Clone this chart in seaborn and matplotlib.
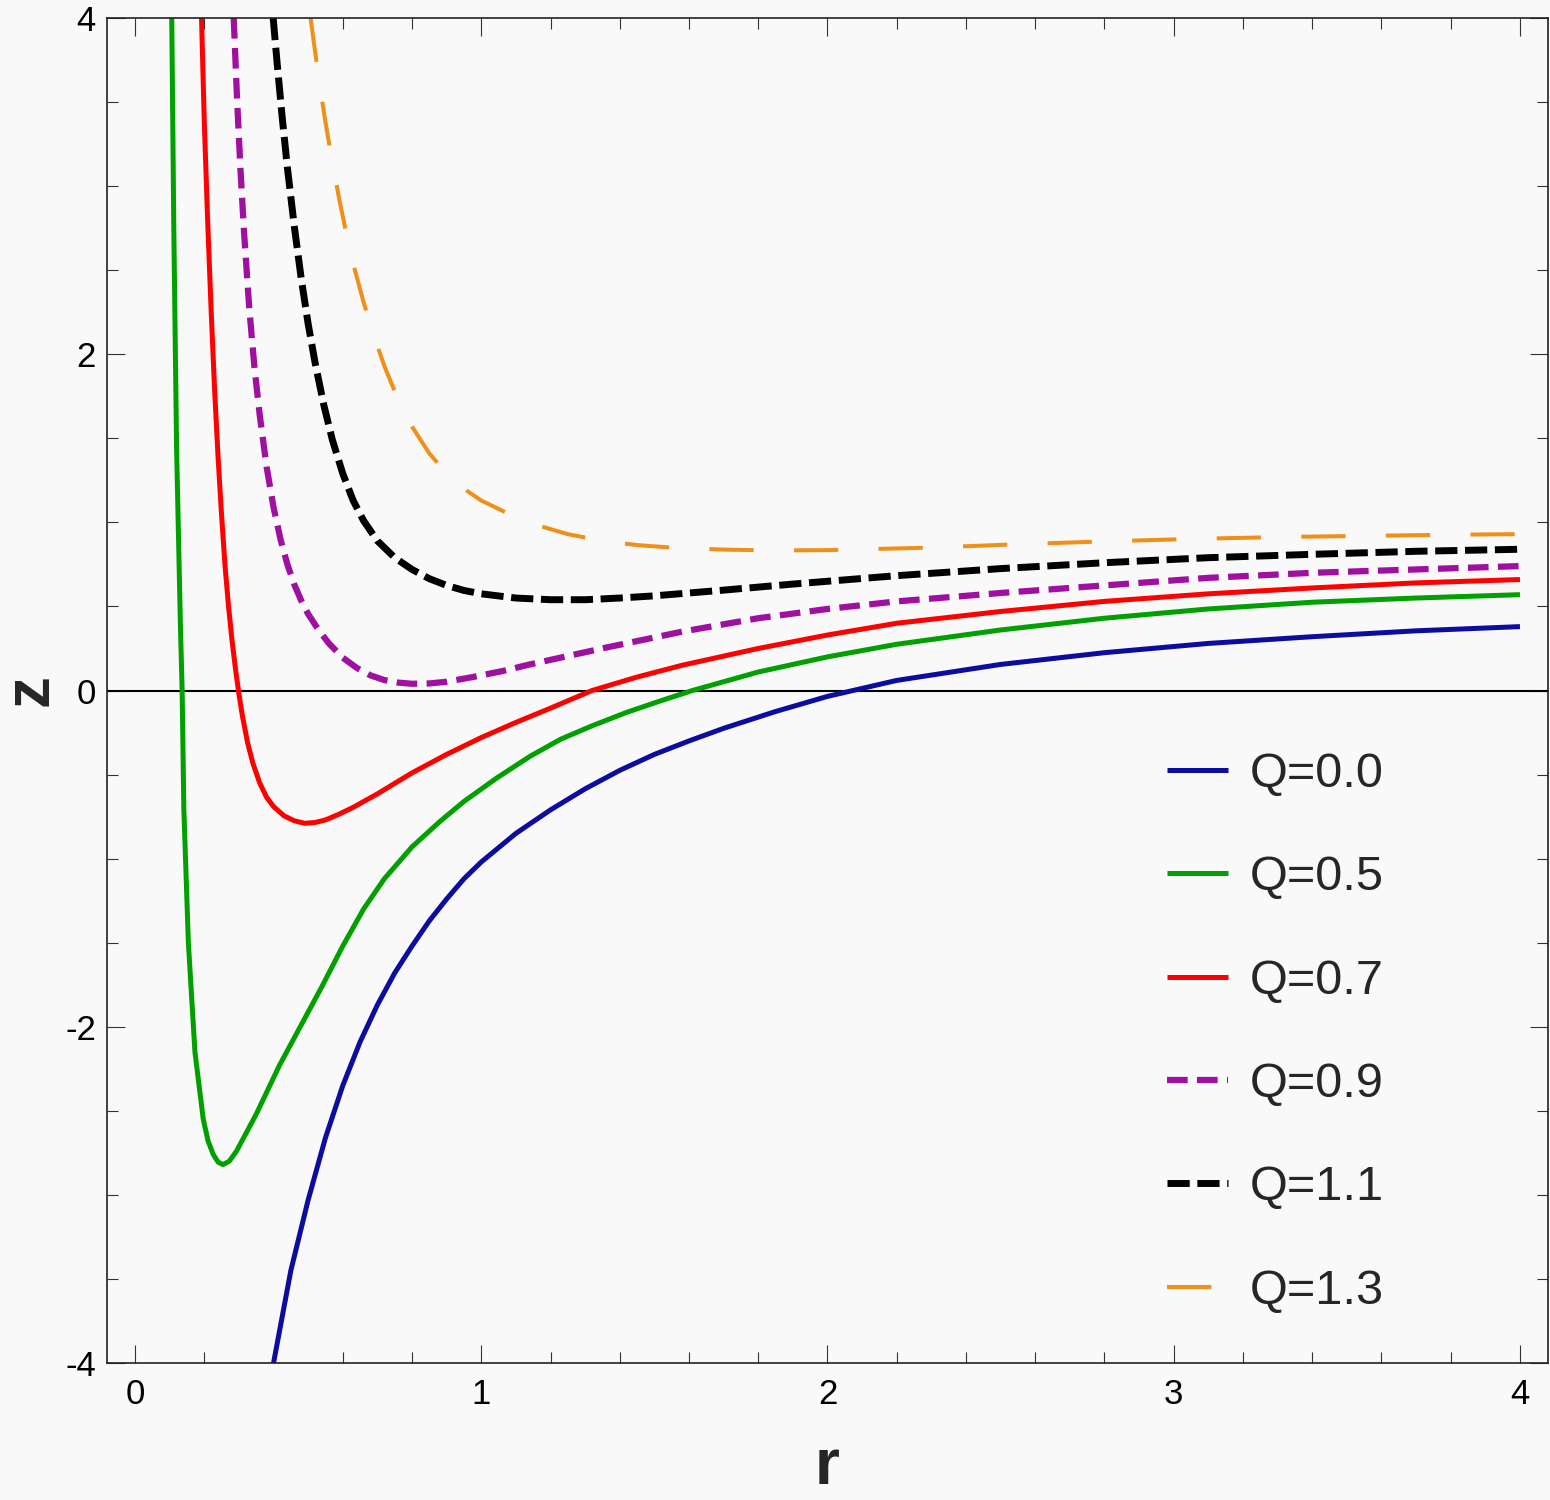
import numpy as np
import pandas as pd
import matplotlib
matplotlib.use("Agg")
import matplotlib.pyplot as plt
from matplotlib import font_manager
from matplotlib.ticker import MultipleLocator
import seaborn as sns

# values, one curve per Q
r_q00 = [0.40, 0.45, 0.50, 0.55, 0.60, 0.65, 0.70, 0.75, 0.80, 0.85, 0.90, 0.95, 1.0,
         1.1, 1.2, 1.3, 1.4, 1.5, 1.6, 1.7, 1.85, 2.0, 2.2, 2.5, 2.8, 3.1, 3.4, 3.7, 4.0]
z_q00 = [-4.0, -3.45, -3.03, -2.66, -2.35, -2.09, -1.87, -1.68, -1.52, -1.37, -1.24, -1.12, -1.02,
         -0.85, -0.71, -0.585, -0.475, -0.38, -0.30, -0.225, -0.125, -0.035, 0.06, 0.155, 0.225,
         0.28, 0.32, 0.355, 0.38]

r_q05 = [0.106, 0.112, 0.120, 0.131, 0.136, 0.141, 0.154, 0.173, 0.197, 0.211, 0.226, 0.240,
         0.254, 0.272, 0.293, 0.35, 0.417, 0.485, 0.54, 0.60, 0.66, 0.72, 0.80, 0.88, 0.95,
         1.045, 1.142, 1.229, 1.32, 1.42, 1.52, 1.61, 1.8, 2.0, 2.2, 2.5, 2.8, 3.1, 3.4, 3.7, 4.0]
z_q05 = [4.0, 2.74, 1.44, 0.39, 0.0, -0.71, -1.50, -2.15, -2.55, -2.68, -2.76, -2.805,
         -2.82, -2.80, -2.74, -2.52, -2.23, -1.97, -1.76, -1.52, -1.30, -1.12, -0.93, -0.78, -0.66,
         -0.52, -0.39, -0.29, -0.21, -0.13, -0.06, 0.0, 0.11, 0.20, 0.275, 0.36, 0.43, 0.485, 0.525,
         0.55, 0.57]

r_q07 = [0.192, 0.20, 0.21, 0.22, 0.23, 0.24, 0.25, 0.26, 0.27, 0.28, 0.29, 0.30, 0.31,
         0.325, 0.34, 0.36, 0.38, 0.40, 0.43, 0.46, 0.49, 0.52, 0.55, 0.59, 0.63, 0.70, 0.80,
         0.90, 1.0, 1.1, 1.2, 1.32, 1.45, 1.58, 1.8, 2.0, 2.2, 2.5, 2.8, 3.1, 3.4, 3.7, 4.0]
z_q07 = [4.0, 3.38, 2.78, 2.25, 1.78, 1.38, 1.04, 0.74, 0.50, 0.30, 0.13, -0.02, -0.15,
         -0.31, -0.43, -0.55, -0.635, -0.69, -0.745, -0.775, -0.79, -0.785, -0.77, -0.735, -0.695,
         -0.615, -0.49, -0.38, -0.28, -0.19, -0.105, 0.0, 0.08, 0.15, 0.25, 0.33, 0.40, 0.47, 0.53,
         0.575, 0.61, 0.64, 0.66]

r_q09 = [0.285, 0.295, 0.305, 0.315, 0.33, 0.345, 0.36, 0.38, 0.40, 0.42, 0.44, 0.46, 0.48,
         0.50, 0.53, 0.56, 0.60, 0.64, 0.68, 0.72, 0.76, 0.80, 0.85, 0.90, 0.975, 1.06, 1.14,
         1.36, 1.58, 1.8, 2.0, 2.2, 2.5, 2.8, 3.1, 3.4, 3.7, 4.0]
z_q09 = [4.0, 3.5, 3.08, 2.72, 2.27, 1.92, 1.64, 1.33, 1.09, 0.90, 0.75, 0.63, 0.535,
         0.455, 0.36, 0.28, 0.195, 0.135, 0.09, 0.062, 0.047, 0.04, 0.042, 0.052, 0.08, 0.115, 0.155,
         0.255, 0.35, 0.43, 0.485, 0.53, 0.58, 0.625, 0.67, 0.70, 0.72, 0.74]

r_q11 = [0.399, 0.41, 0.425, 0.44, 0.46, 0.48, 0.50, 0.52, 0.545, 0.57, 0.60, 0.63, 0.66,
         0.70, 0.75, 0.80, 0.85, 0.90, 0.95, 1.0, 1.1, 1.2, 1.3, 1.4, 1.5, 1.7, 1.9, 2.2, 2.5,
         2.8, 3.1, 3.4, 3.7, 4.0]
z_q11 = [4.0, 3.74, 3.41, 3.11, 2.76, 2.45, 2.18, 1.95, 1.70, 1.49, 1.29, 1.13, 1.01,
         0.89, 0.79, 0.72, 0.665, 0.625, 0.595, 0.575, 0.55, 0.54, 0.54, 0.55, 0.563, 0.597, 0.633,
         0.683, 0.725, 0.76, 0.79, 0.81, 0.828, 0.84]

r_q13 = [0.507, 0.52, 0.535, 0.55, 0.57, 0.59, 0.61, 0.635, 0.66, 0.69, 0.72, 0.76, 0.80,
         0.85, 0.90, 0.95, 1.0, 1.07, 1.15, 1.25, 1.35, 1.45, 1.55, 1.7, 1.85, 2.0, 2.3, 2.55,
         2.8, 3.06, 3.31, 3.56, 3.82, 4.0]
z_q13 = [4.0, 3.80, 3.58, 3.38, 3.14, 2.92, 2.72, 2.50, 2.31, 2.11, 1.93, 1.73, 1.57,
         1.41, 1.29, 1.20, 1.13, 1.06, 0.99, 0.93, 0.89, 0.865, 0.85, 0.838, 0.833, 0.835, 0.85,
         0.87, 0.887, 0.902, 0.913, 0.92, 0.927, 0.93]

labels = ["Q=0.0", "Q=0.5", "Q=0.7", "Q=0.9", "Q=1.1", "Q=1.3"]
r_all = [r_q00, r_q05, r_q07, r_q09, r_q11, r_q13]
z_all = [z_q00, z_q05, z_q07, z_q09, z_q11, z_q13]

# line looks: color, width (pt), dash pattern in linewidth units (None = solid)
styles = [
    ("#0c0ca0", 3.6, None),
    ("#00a000", 3.6, None),
    ("#ff0000", 3.6, None),
    ("#a010a0", 4.5, (3.3, 1.5)),
    ("#000000", 5.0, (3.2, 1.1)),
    ("#f0901a", 2.9, (11.0, 10.0)),
]

sns.set_style("ticks")
names = [f.name for f in font_manager.fontManager.ttflist]
narrow = "Liberation Sans Narrow" if "Liberation Sans Narrow" in names else "Liberation Sans"
plt.rcParams["font.family"] = [narrow, "DejaVu Sans"]
plt.rcParams["axes.unicode_minus"] = False

bg = "#f9f9f9"
fig = plt.figure(figsize=(15.5, 15), dpi=100, facecolor=bg)
ax = fig.add_axes([107 / 1550, 1 - 1363 / 1500, 1441 / 1550, 1345 / 1500])
ax.set_facecolor(bg)

for lab, rr, zz, (col, lw, dash) in zip(labels, r_all, z_all, styles):
    df = pd.DataFrame({"r": rr, "z": zz})
    kw = dict(color=col, linewidth=lw, label=lab, solid_capstyle="butt",
              dash_capstyle="butt", solid_joinstyle="round")
    if dash is not None:
        kw["dashes"] = dash
    sns.lineplot(data=df, x="r", y="z", sort=False, estimator=None, ax=ax, **kw)

ax.axhline(0, color="black", linewidth=1.5, zorder=1)

ax.set_xlim(-0.081, 4.081)
ax.set_ylim(-4, 4)
ax.xaxis.set_major_locator(MultipleLocator(1))
ax.xaxis.set_minor_locator(MultipleLocator(0.2))
ax.yaxis.set_major_locator(MultipleLocator(2))
ax.yaxis.set_minor_locator(MultipleLocator(0.5))
ax.tick_params(which="both", direction="in", top=True, right=True, width=0.8, colors="#333333",
               labelcolor="black", labelsize=25)
ax.tick_params(which="major", length=13)
ax.tick_params(which="minor", length=8)
ax.tick_params(axis="x", pad=11)
ax.tick_params(axis="y", pad=8)
for sp in ax.spines.values():
    sp.set_linewidth(1.2)
    sp.set_color("#222222")

# axis labels: baseline-anchored so the glyphs sit where the reference has them
ax.set_xlabel("r", fontsize=46, fontweight="bold")
ax.xaxis.label.set_va("baseline")
ax.xaxis.set_label_coords(0.5, (1363 - 1484) / 1345)
ax.set_ylabel("z", fontsize=46, fontweight="bold", rotation=90)
ax.yaxis.label.set_rotation_mode("anchor")
ax.yaxis.label.set_va("baseline")
ax.yaxis.label.set_ha("center")
ax.yaxis.set_label_coords((48 - 107) / 1441, 0.5)

ax.legend(loc="upper left", bbox_to_anchor=((1167 - 107) / 1441, (1363 - 752) / 1345),
          frameon=False, fontsize=35, handlelength=1.25, handletextpad=0.45,
          labelspacing=1.2, borderpad=0, borderaxespad=0)

fig.savefig("out.png", dpi=100, facecolor=bg)
